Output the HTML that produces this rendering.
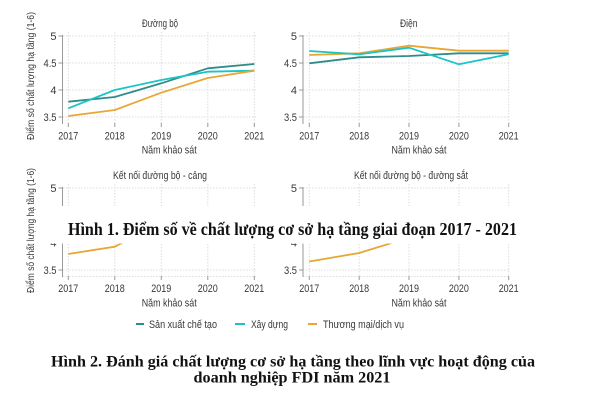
<!DOCTYPE html>
<html>
<head>
<meta charset="utf-8">
<style>
  html,body{margin:0;padding:0;background:#fff;}
  svg{display:block;}
  .t{font-family:"Liberation Sans","DejaVu Sans",sans-serif;fill:#383838;}
  .cap{font-family:"Liberation Serif","DejaVu Serif",serif;font-weight:bold;fill:#111;}
</style>
</head>
<body>
<svg width="600" height="404" viewBox="0 0 600 404" xmlns="http://www.w3.org/2000/svg">
  <rect width="600" height="404" fill="#fff"/>

  <!-- ========== TOP LEFT: Đường bộ ========== -->
  <g stroke="#dcdcdc" stroke-width="1" stroke-dasharray="1.5,1.5" fill="none">
    <line x1="63" y1="36" x2="256" y2="36"/>
    <line x1="63" y1="63" x2="256" y2="63"/>
    <line x1="63" y1="90" x2="256" y2="90"/>
    <line x1="63" y1="117" x2="256" y2="117"/>
    <line x1="68.3" y1="32" x2="68.3" y2="123"/>
    <line x1="114.8" y1="32" x2="114.8" y2="123"/>
    <line x1="161.3" y1="32" x2="161.3" y2="123"/>
    <line x1="207.8" y1="32" x2="207.8" y2="123"/>
    <line x1="254.3" y1="32" x2="254.3" y2="123"/>
  </g>
  <g stroke="#9a9a9a" stroke-width="1" fill="none">
    <line x1="62.5" y1="35" x2="62.5" y2="124"/>
    <line x1="58.5" y1="36" x2="62.5" y2="36"/>
    <line x1="58.5" y1="63" x2="62.5" y2="63"/>
    <line x1="58.5" y1="90" x2="62.5" y2="90"/>
    <line x1="58.5" y1="117" x2="62.5" y2="117"/>
    <line x1="68.3" y1="123" x2="68.3" y2="127"/>
    <line x1="114.8" y1="123" x2="114.8" y2="127"/>
    <line x1="161.3" y1="123" x2="161.3" y2="127"/>
    <line x1="207.8" y1="123" x2="207.8" y2="127"/>
    <line x1="254.3" y1="123" x2="254.3" y2="127"/>
  </g>
  <g class="t" font-size="11" text-anchor="end">
    <text x="56.5" y="40">5</text>
    <text x="56.5" y="67" textLength="13" lengthAdjust="spacingAndGlyphs">4.5</text>
    <text x="56.5" y="94">4</text>
    <text x="56.5" y="121" textLength="13" lengthAdjust="spacingAndGlyphs">3.5</text>
  </g>
  <g class="t" font-size="11">
    <text x="58.3" y="139.5" textLength="20" lengthAdjust="spacingAndGlyphs">2017</text>
    <text x="104.8" y="139.5" textLength="20" lengthAdjust="spacingAndGlyphs">2018</text>
    <text x="151.3" y="139.5" textLength="20" lengthAdjust="spacingAndGlyphs">2019</text>
    <text x="197.8" y="139.5" textLength="20" lengthAdjust="spacingAndGlyphs">2020</text>
    <text x="244.3" y="139.5" textLength="20" lengthAdjust="spacingAndGlyphs">2021</text>
    <text x="142" y="27" textLength="36" lengthAdjust="spacingAndGlyphs">Đường bộ</text>
    <text x="141.7" y="153.5" textLength="55" lengthAdjust="spacingAndGlyphs">Năm khảo sát</text>
  </g>
  <text class="t" font-size="10.5" transform="translate(34,140) rotate(-90)" textLength="128" lengthAdjust="spacingAndGlyphs">Điểm số chất lượng hạ tầng (1-6)</text>
  <g fill="none" stroke-width="1.8" stroke-linejoin="round">
    <polyline stroke="#2f8c89" points="68.3,101.7 114.8,97 161.3,83.3 207.8,68.3 254.3,64"/>
    <polyline stroke="#1cc4c6" points="68.3,108.3 114.8,90 161.3,80 207.8,71.7 254.3,70.7"/>
    <polyline stroke="#e8a735" points="68.3,116 114.8,110 161.3,92.7 207.8,78 254.3,70.7"/>
  </g>

  <!-- ========== TOP RIGHT: Điện ========== -->
  <g stroke="#dcdcdc" stroke-width="1" stroke-dasharray="1.5,1.5" fill="none">
    <line x1="303" y1="36" x2="510" y2="36"/>
    <line x1="303" y1="63" x2="510" y2="63"/>
    <line x1="303" y1="90" x2="510" y2="90"/>
    <line x1="303" y1="117" x2="510" y2="117"/>
    <line x1="309.3" y1="32" x2="309.3" y2="123"/>
    <line x1="359.2" y1="32" x2="359.2" y2="123"/>
    <line x1="409" y1="32" x2="409" y2="123"/>
    <line x1="458.9" y1="32" x2="458.9" y2="123"/>
    <line x1="508.7" y1="32" x2="508.7" y2="123"/>
  </g>
  <g stroke="#9a9a9a" stroke-width="1" fill="none">
    <line x1="303" y1="35" x2="303" y2="124"/>
    <line x1="299" y1="36" x2="303" y2="36"/>
    <line x1="299" y1="63" x2="303" y2="63"/>
    <line x1="299" y1="90" x2="303" y2="90"/>
    <line x1="299" y1="117" x2="303" y2="117"/>
    <line x1="309.3" y1="123" x2="309.3" y2="127"/>
    <line x1="359.2" y1="123" x2="359.2" y2="127"/>
    <line x1="409" y1="123" x2="409" y2="127"/>
    <line x1="458.9" y1="123" x2="458.9" y2="127"/>
    <line x1="508.7" y1="123" x2="508.7" y2="127"/>
  </g>
  <g class="t" font-size="11" text-anchor="end">
    <text x="297" y="40">5</text>
    <text x="297" y="67" textLength="13" lengthAdjust="spacingAndGlyphs">4.5</text>
    <text x="297" y="94">4</text>
    <text x="297" y="121" textLength="13" lengthAdjust="spacingAndGlyphs">3.5</text>
  </g>
  <g class="t" font-size="11">
    <text x="299.3" y="139.5" textLength="20" lengthAdjust="spacingAndGlyphs">2017</text>
    <text x="349.2" y="139.5" textLength="20" lengthAdjust="spacingAndGlyphs">2018</text>
    <text x="399" y="139.5" textLength="20" lengthAdjust="spacingAndGlyphs">2019</text>
    <text x="448.9" y="139.5" textLength="20" lengthAdjust="spacingAndGlyphs">2020</text>
    <text x="498.7" y="139.5" textLength="20" lengthAdjust="spacingAndGlyphs">2021</text>
    <text x="400" y="27" textLength="17.5" lengthAdjust="spacingAndGlyphs">Điện</text>
    <text x="391.5" y="153.5" textLength="55" lengthAdjust="spacingAndGlyphs">Năm khảo sát</text>
  </g>
  <g fill="none" stroke-width="1.8" stroke-linejoin="round">
    <polyline stroke="#2f8c89" points="309.3,63.3 359.2,57.3 409,56 458.9,53.3 508.7,53.3"/>
    <polyline stroke="#e8a735" points="309.3,55 359.2,53.3 409,45.7 458.9,50.7 508.7,50.7"/>
    <polyline stroke="#1cc4c6" points="309.3,51 359.2,54.3 409,47.7 458.9,64.3 508.7,54.3"/>
  </g>

  <!-- ========== BOTTOM LEFT: Kết nối đường bộ - cảng ========== -->
  <g stroke="#dcdcdc" stroke-width="1" stroke-dasharray="1.5,1.5" fill="none">
    <line x1="63" y1="188" x2="256" y2="188"/>
    <line x1="63" y1="270" x2="256" y2="270"/>
    <line x1="63" y1="276.5" x2="256" y2="276.5"/>
    <line x1="68.3" y1="184" x2="68.3" y2="276"/>
    <line x1="114.8" y1="184" x2="114.8" y2="276"/>
    <line x1="161.3" y1="184" x2="161.3" y2="276"/>
    <line x1="207.8" y1="184" x2="207.8" y2="276"/>
    <line x1="254.3" y1="184" x2="254.3" y2="276"/>
  </g>
  <g stroke="#9a9a9a" stroke-width="1" fill="none">
    <line x1="62.5" y1="187" x2="62.5" y2="277"/>
    <line x1="58.5" y1="188" x2="62.5" y2="188"/>
    <line x1="58.5" y1="242.7" x2="62.5" y2="242.7"/>
    <line x1="58.5" y1="270" x2="62.5" y2="270"/>
    <line x1="68.3" y1="276" x2="68.3" y2="280"/>
    <line x1="114.8" y1="276" x2="114.8" y2="280"/>
    <line x1="161.3" y1="276" x2="161.3" y2="280"/>
    <line x1="207.8" y1="276" x2="207.8" y2="280"/>
    <line x1="254.3" y1="276" x2="254.3" y2="280"/>
  </g>
  <g class="t" font-size="11" text-anchor="end">
    <text x="56.5" y="192">5</text>
    <text x="56.5" y="246.7">4</text>
    <text x="56.5" y="274" textLength="13" lengthAdjust="spacingAndGlyphs">3.5</text>
  </g>
  <g class="t" font-size="11">
    <text x="58.3" y="292" textLength="20" lengthAdjust="spacingAndGlyphs">2017</text>
    <text x="104.8" y="292" textLength="20" lengthAdjust="spacingAndGlyphs">2018</text>
    <text x="151.3" y="292" textLength="20" lengthAdjust="spacingAndGlyphs">2019</text>
    <text x="197.8" y="292" textLength="20" lengthAdjust="spacingAndGlyphs">2020</text>
    <text x="244.3" y="292" textLength="20" lengthAdjust="spacingAndGlyphs">2021</text>
    <text x="113" y="179" textLength="94" lengthAdjust="spacingAndGlyphs">Kết nối đường bộ - cảng</text>
    <text x="141.7" y="306.7" textLength="55" lengthAdjust="spacingAndGlyphs">Năm khảo sát</text>
  </g>
  <g fill="none" stroke-width="1.8" stroke-linejoin="round">
    <polyline stroke="#e8a735" points="68.3,254 114.8,246.7 122,243 161.3,222"/>
  </g>

  <!-- ========== BOTTOM RIGHT: Kết nối đường bộ - đường sắt ========== -->
  <g stroke="#dcdcdc" stroke-width="1" stroke-dasharray="1.5,1.5" fill="none">
    <line x1="303" y1="188" x2="510" y2="188"/>
    <line x1="303" y1="270" x2="510" y2="270"/>
    <line x1="303" y1="276.5" x2="510" y2="276.5"/>
    <line x1="309.3" y1="184" x2="309.3" y2="276"/>
    <line x1="359.2" y1="184" x2="359.2" y2="276"/>
    <line x1="409" y1="184" x2="409" y2="276"/>
    <line x1="458.9" y1="184" x2="458.9" y2="276"/>
    <line x1="508.7" y1="184" x2="508.7" y2="276"/>
  </g>
  <g stroke="#9a9a9a" stroke-width="1" fill="none">
    <line x1="303" y1="187" x2="303" y2="277"/>
    <line x1="299" y1="188" x2="303" y2="188"/>
    <line x1="299" y1="242.7" x2="303" y2="242.7"/>
    <line x1="299" y1="270" x2="303" y2="270"/>
    <line x1="309.3" y1="276" x2="309.3" y2="280"/>
    <line x1="359.2" y1="276" x2="359.2" y2="280"/>
    <line x1="409" y1="276" x2="409" y2="280"/>
    <line x1="458.9" y1="276" x2="458.9" y2="280"/>
    <line x1="508.7" y1="276" x2="508.7" y2="280"/>
  </g>
  <g class="t" font-size="11" text-anchor="end">
    <text x="297" y="192">5</text>
    <text x="297" y="246.7">4</text>
    <text x="297" y="274" textLength="13" lengthAdjust="spacingAndGlyphs">3.5</text>
  </g>
  <g class="t" font-size="11">
    <text x="299.3" y="292" textLength="20" lengthAdjust="spacingAndGlyphs">2017</text>
    <text x="349.2" y="292" textLength="20" lengthAdjust="spacingAndGlyphs">2018</text>
    <text x="399" y="292" textLength="20" lengthAdjust="spacingAndGlyphs">2019</text>
    <text x="448.9" y="292" textLength="20" lengthAdjust="spacingAndGlyphs">2020</text>
    <text x="498.7" y="292" textLength="20" lengthAdjust="spacingAndGlyphs">2021</text>
    <text x="354" y="179" textLength="114" lengthAdjust="spacingAndGlyphs">Kết nối đường bộ - đường sắt</text>
    <text x="391.5" y="306.7" textLength="55" lengthAdjust="spacingAndGlyphs">Năm khảo sát</text>
  </g>
  <g fill="none" stroke-width="1.8" stroke-linejoin="round">
    <polyline stroke="#e8a735" points="309.3,261.5 359.2,253 390,243.5 409,234"/>
  </g>

  <!-- White overlay with Hình 1 caption -->
  <rect x="40" y="206" width="560" height="37.5" fill="#fff"/>
  <text class="cap" x="68" y="235" font-size="18" textLength="449" lengthAdjust="spacingAndGlyphs">Hình 1. Điểm số về chất lượng cơ sở hạ tầng giai đoạn 2017 - 2021</text>

  <!-- bottom-left y-axis label (drawn over box) -->
  <text class="t" font-size="10.5" transform="translate(34,293) rotate(-90)" textLength="125" lengthAdjust="spacingAndGlyphs">Điểm số chất lượng hạ tầng (1-6)</text>

  <!-- Legend -->
  <g stroke-width="2">
    <line x1="136" y1="324" x2="144" y2="324" stroke="#2f8c89"/>
    <line x1="235" y1="324" x2="245" y2="324" stroke="#1cc4c6"/>
    <line x1="308" y1="324" x2="317" y2="324" stroke="#e8a735"/>
  </g>
  <g class="t" font-size="11">
    <text x="149" y="328" textLength="68" lengthAdjust="spacingAndGlyphs">Sản xuất chế tạo</text>
    <text x="251" y="328" textLength="37" lengthAdjust="spacingAndGlyphs">Xây dựng</text>
    <text x="323" y="328" textLength="81" lengthAdjust="spacingAndGlyphs">Thương mại/dịch vụ</text>
  </g>

  <!-- Hình 2 caption -->
  <text class="cap" x="51" y="366.5" font-size="15.5" textLength="484" lengthAdjust="spacingAndGlyphs">Hình 2. Đánh giá chất lượng cơ sở hạ tầng theo lĩnh vực hoạt động của</text>
  <text class="cap" x="193.5" y="382.5" font-size="15.5" textLength="197" lengthAdjust="spacingAndGlyphs">doanh nghiệp FDI năm 2021</text>
</svg>
</body>
</html>
